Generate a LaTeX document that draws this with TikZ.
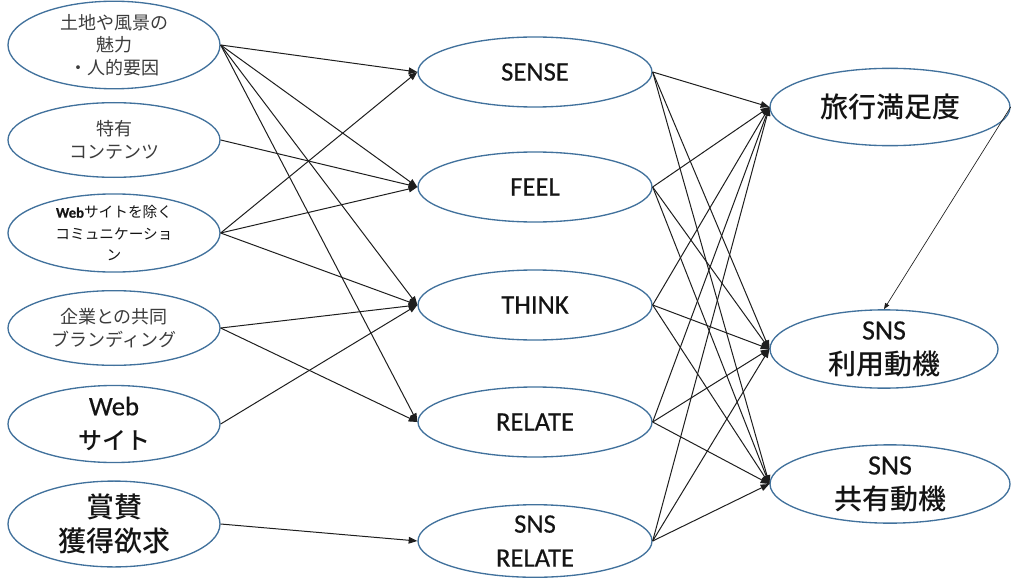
\documentclass[tikz,border=0pt]{standalone}
\usepackage{fontspec}
\setmainfont{Carlito}[FakeBold=0.5]
\newfontfamily\jpfont{Noto Sans CJK JP}
\newfontfamily\jpheavy{Noto Sans CJK JP Medium}
\usetikzlibrary{shapes.geometric,arrows.meta}

\tikzset{every picture/.style={line width=0.75pt}}
\tikzset{
  oval/.style={ellipse, draw={rgb, 255:red, 65; green, 113; blue, 156}, line width=1pt,
    inner sep=0pt, align=center, text={rgb, 255:red, 20; green, 20; blue, 20}},
  leftoval/.style={oval, minimum width=159pt, minimum height=56pt},
  midoval/.style={oval, minimum width=175.5pt, minimum height=52.5pt, font=\fontsize{20}{25.5}\selectfont},
  rightoval/.style={oval, minimum width=180pt, minimum height=58pt, font=\fontsize{21}{26}\selectfont},
  jpsmall/.style={font=\jpfont\fontsize{13.5}{17}\selectfont, text={rgb, 255:red, 60; green, 60; blue, 60}},
  jptiny/.style={font=\jpfont\fontsize{11}{16}\selectfont},
  jpbig/.style={font=\jpheavy\fontsize{21}{26}\selectfont},
  link/.style={draw={rgb, 255:red, 30; green, 30; blue, 30}, -{Triangle[length=6.5pt,width=5pt]}},
  thinlink/.style={draw={rgb, 255:red, 30; green, 30; blue, 30}, line width=0.5pt, -{Triangle[length=4.5pt,width=3.5pt]}}
}

\begin{document}
\begin{tikzpicture}[x=0.75pt,y=0.75pt,yscale=-1,xscale=1]
\path[use as bounding box] (0,0) rectangle (1012,581);

%Shape: Ellipse
\node [leftoval, jpsmall] (miryoku) at (114,45) {土地や風景の\\魅力\\・人的要因};
%Shape: Ellipse
\node [leftoval, jpsmall] (tokuyu) at (114,140) {特有\\コンテンツ};
%Shape: Ellipse
\node [leftoval, jptiny] (komyu) at (114,233) {{\rmfamily\bfseries Web}サイトを除く\\コミュニケーショ\\ン};
%Shape: Ellipse
\node [leftoval, font=\jpheavy\fontsize{18}{26}\selectfont] (website) at (114,424) {{\rmfamily\fontsize{20}{26}\selectfont Web}\\サイト};
%Shape: Ellipse
\node [leftoval, jpsmall] (kyodo) at (114,328) {企業との共同\\ブランディング};
%Shape: Ellipse
\node [leftoval, jpbig, minimum height=58pt] (shosan) at (114,524) {賞賛\\獲得欲求};

%Shape: Ellipse
\node [midoval] (sense) at (535,72) {SENSE};
%Shape: Ellipse
\node [midoval] (feel) at (535,187) {FEEL};
%Shape: Ellipse
\node [midoval] (think) at (535,305) {THINK};
%Shape: Ellipse
\node [midoval] (relate) at (535,422) {RELATE};
%Shape: Ellipse
\node [midoval] (snsrelate) at (535,541) {SNS\\RELATE};

%Shape: Ellipse
\node [rightoval] (manzoku) at (890,107) {\jpheavy 旅行満足度};
%Shape: Ellipse
\node [rightoval, minimum width=171pt] (riyou) at (884,349) {SNS\\{\jpheavy 利用動機}};
%Shape: Ellipse
\node [rightoval] (kyouyu) at (890,484) {SNS\\{\jpheavy 共有動機}};

%Straight Lines
\draw [link] (miryoku.east) -- (sense.west);
\draw [link] (miryoku.east) -- (feel.west);
\draw [link] (miryoku.east) -- (think.west);
\draw [link] (miryoku.east) -- (relate.west);
\draw [link] (tokuyu.east) -- (feel.west);
\draw [link] (komyu.east) -- (sense.west);
\draw [link] (komyu.east) -- (feel.west);
\draw [link] (komyu.east) -- (think.west);
\draw [link] (kyodo.east) -- (think.west);
\draw [link] (kyodo.east) -- (relate.west);
\draw [link] (website.east) -- (think.west);
\draw [link] (shosan.east) -- (snsrelate.west);

%Straight Lines
\draw [link] (sense.east) -- (manzoku.west);
\draw [link] (sense.east) -- (riyou.west);
\draw [link] (sense.east) -- (kyouyu.west);
\draw [link] (feel.east) -- (manzoku.west);
\draw [link] (feel.east) -- (riyou.west);
\draw [link] (feel.east) -- (kyouyu.west);
\draw [link] (think.east) -- (manzoku.west);
\draw [link] (think.east) -- (riyou.west);
\draw [link] (think.east) -- (kyouyu.west);
\draw [link] (relate.east) -- (manzoku.west);
\draw [link] (relate.east) -- (riyou.west);
\draw [link] (relate.east) -- (kyouyu.west);
\draw [link] (snsrelate.east) -- (manzoku.west);
\draw [link] (snsrelate.east) -- (riyou.west);
\draw [link] (snsrelate.east) -- (kyouyu.west);

%Straight Lines
\draw [thinlink] (manzoku.east) -- (riyou.north);

\end{tikzpicture}
\end{document}
